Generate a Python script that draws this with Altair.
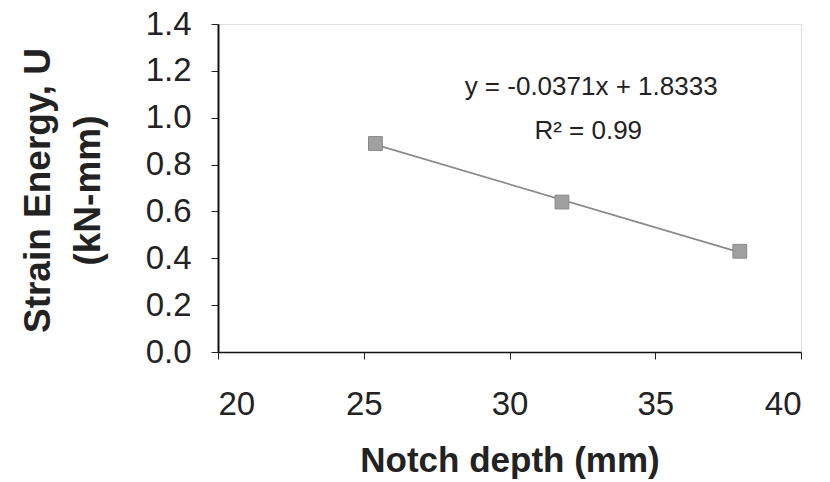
import altair as alt
import pandas as pd

notch_depth = [25.4, 31.8, 37.9]
strain_energy = [0.89, 0.64, 0.43]

x_ticks = [20, 25, 30, 35, 40]
y_ticks = [0.0, 0.2, 0.4, 0.6, 0.8, 1.0, 1.2, 1.4]

ann_text = ["y = -0.0371x + 1.8333", "R² = 0.99"]
ann_x = [32.8, 32.7]
ann_y = [1.133, 0.945]

df = pd.DataFrame({"x": notch_depth, "y": strain_energy})
ann = pd.DataFrame({"t": ann_text, "x": ann_x, "y": ann_y})

FONT = "Liberation Sans"

xs = alt.Scale(domain=[20, 40], nice=False, zero=False)
ys = alt.Scale(domain=[0, 1.4], nice=False)

x_axis = alt.Axis(
    values=x_ticks, format="d", grid=False,
    title="Notch depth (mm)", titleFont=FONT, titleFontSize=35, titleFontWeight="bold",
    titleColor="#222", titlePadding=22,
    labelFont=FONT, labelFontSize=33, labelColor="#222", labelPadding=29,
    tickSize=7, tickColor="#222", domainColor="#111", domainWidth=1.5,
)
y_axis = alt.Axis(
    values=y_ticks, format=".1f", grid=False,
    title=["Strain Energy, U", "(kN-mm)"], titleFont=FONT, titleFontSize=37,
    titleFontWeight="bold", titleColor="#222", titleLineHeight=50,
    titleAngle=-90, titleAlign="center", titleBaseline="middle",
    titleX=-180, titleY=166,
    labelFont=FONT, labelFontSize=33, labelColor="#222", labelPadding=20,
    tickSize=7, tickColor="#222", domainColor="#111", domainWidth=2,
)

base = alt.Chart(df)

trend = base.transform_regression("x", "y").mark_line(
    color="#8a8a8a", strokeWidth=1.8
).encode(x=alt.X("x:Q", scale=xs, axis=x_axis), y=alt.Y("y:Q", scale=ys, axis=y_axis))

pts = base.mark_square(size=190, color="#a0a0a0", opacity=1,
                       stroke="#888", strokeWidth=1).encode(
    x=alt.X("x:Q", scale=xs), y=alt.Y("y:Q", scale=ys)
)

txt = alt.Chart(ann).mark_text(font=FONT, fontSize=26, color="#222",
                               align="center", baseline="middle").encode(
    x=alt.X("x:Q", scale=xs), y=alt.Y("y:Q", scale=ys), text="t:N"
)

chart = alt.layer(trend, pts, txt).properties(
    width=583, height=328,
    autosize=alt.AutoSizeParams(type="none"),
    padding={"left": 218, "top": 24, "right": 29, "bottom": 130},
).configure_view(
    stroke="#999", strokeWidth=1.5, strokeDash=[2, 1]
).configure(background="white")

chart.save("out.html", embed_options={"renderer": "svg", "actions": False})
